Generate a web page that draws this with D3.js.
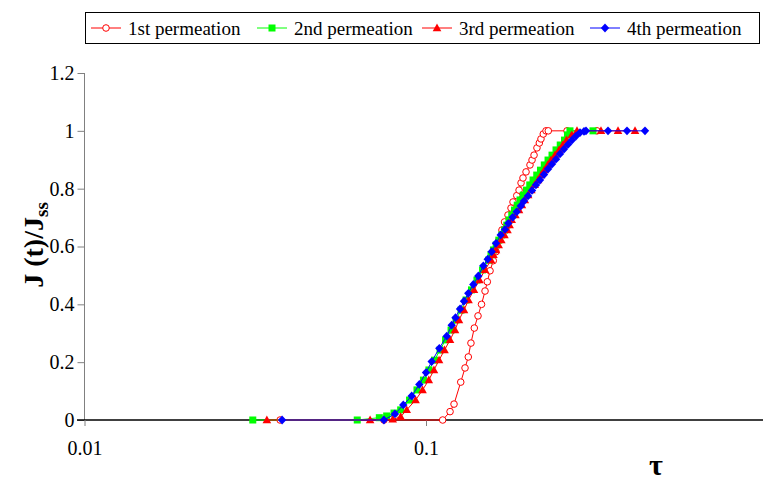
<!DOCTYPE html>
<html>
<head>
<meta charset="utf-8">
<script src="https://cdn.jsdelivr.net/npm/d3@7"></script>
<style>
  html, body { margin: 0; padding: 0; background: #fff; }
  svg { display: block; }
  text { font-family: "Liberation Serif", "Times New Roman", serif; }
</style>
</head>
<body>
<svg id="chart" width="763" height="492"></svg>
<script>
// ---- Data ----
const seriesNames = ["1st permeation", "2nd permeation", "3rd permeation", "4th permeation"];
const xTickValues = [0.01, 0.1];
const xTickLabels = ["0.01", "0.1"];
const yTickValues = [0, 0.2, 0.4, 0.6, 0.8, 1, 1.2];
const yTickLabels = ["0", "0.2", "0.4", "0.6", "0.8", "1", "1.2"];

const tau1 = [0.0374, 0.0753, 0.1119, 0.1176, 0.1208, 0.1264, 0.1301, 0.1330, 0.1354, 0.1385, 0.1420, 0.1454, 0.1489, 0.1512, 0.1540, 0.1574, 0.1603, 0.1636, 0.1669, 0.1698, 0.1738, 0.1774, 0.1798, 0.1844, 0.1873, 0.1898, 0.1923, 0.1963, 0.2016, 0.2044, 0.2072, 0.2113, 0.2147, 0.2171, 0.2205, 0.2246, 0.2281, 0.2588, 0.3168];
const j1   = [0, 0, 0, 0.029, 0.055, 0.131, 0.18, 0.218, 0.266, 0.318, 0.36, 0.40, 0.446, 0.478, 0.516, 0.551, 0.582, 0.622, 0.657, 0.685, 0.709, 0.733, 0.754, 0.776, 0.795, 0.82, 0.837, 0.858, 0.882, 0.899, 0.916, 0.941, 0.958, 0.972, 0.989, 1, 1, 1, 1];

const tau2 = [0.0311, 0.0629, 0.0730, 0.0767, 0.0806, 0.0843, 0.0895, 0.0941, 0.0983, 0.1020, 0.1059, 0.1099, 0.1141, 0.1184, 0.1224, 0.1266, 0.1310, 0.1359, 0.1410, 0.1464, 0.1524, 0.1550, 0.1576, 0.1605, 0.1634, 0.1666, 0.1698, 0.1724, 0.1750, 0.1783, 0.1816, 0.1850, 0.1885, 0.1927, 0.1969, 0.2013, 0.2058, 0.2110, 0.2164, 0.2220, 0.2277, 0.2339, 0.2403, 0.2472, 0.2544, 0.2596, 0.2640, 0.3083];
const j2   = [0, 0, 0.008, 0.014, 0.024, 0.035, 0.069, 0.104, 0.138, 0.173, 0.207, 0.242, 0.277, 0.311, 0.346, 0.380, 0.415, 0.450, 0.484, 0.519, 0.553, 0.571, 0.588, 0.605, 0.622, 0.640, 0.657, 0.674, 0.692, 0.709, 0.726, 0.743, 0.761, 0.778, 0.795, 0.813, 0.830, 0.847, 0.864, 0.882, 0.899, 0.916, 0.934, 0.951, 0.968, 0.986, 1, 1];

const tau3 = [0.0342, 0.0686, 0.0799, 0.0843, 0.0878, 0.0932, 0.0977, 0.1019, 0.1055, 0.1092, 0.1133, 0.1176, 0.1216, 0.1249, 0.1292, 0.1332, 0.1382, 0.1434, 0.1489, 0.1550, 0.1576, 0.1603, 0.1632, 0.1662, 0.1697, 0.1732, 0.1757, 0.1782, 0.1827, 0.1872, 0.1909, 0.1947, 0.1991, 0.2035, 0.2081, 0.2128, 0.2174, 0.2220, 0.2271, 0.2323, 0.2386, 0.2452, 0.2514, 0.2579, 0.2672, 0.2768, 0.3254, 0.3650, 0.4093];
const j3   = [0, 0, 0.002, 0.011, 0.035, 0.069, 0.104, 0.138, 0.173, 0.207, 0.242, 0.277, 0.311, 0.346, 0.380, 0.415, 0.450, 0.484, 0.519, 0.553, 0.571, 0.588, 0.605, 0.622, 0.640, 0.657, 0.674, 0.692, 0.709, 0.726, 0.743, 0.761, 0.778, 0.795, 0.813, 0.830, 0.847, 0.864, 0.882, 0.899, 0.916, 0.934, 0.951, 0.968, 0.986, 1, 1, 1, 1];

const tau4 = [0.0379, 0.0753, 0.0811, 0.0858, 0.0908, 0.0956, 0.1000, 0.1039, 0.1094, 0.1150, 0.1189, 0.1220, 0.1258, 0.1292, 0.1330, 0.1376, 0.1423, 0.1472, 0.1516, 0.1557, 0.1603, 0.1655, 0.1703, 0.1742, 0.1794, 0.1843, 0.1894, 0.1936, 0.1989, 0.2044, 0.2099, 0.2157, 0.2216, 0.2277, 0.2339, 0.2403, 0.2468, 0.2536, 0.2605, 0.2676, 0.2749, 0.2825, 0.2902, 0.2941, 0.3412, 0.3878, 0.4378];
const j4   = [0, 0, 0.021, 0.052, 0.083, 0.123, 0.164, 0.202, 0.248, 0.290, 0.328, 0.354, 0.384, 0.411, 0.438, 0.469, 0.498, 0.533, 0.556, 0.582, 0.611, 0.640, 0.659, 0.680, 0.701, 0.720, 0.740, 0.757, 0.775, 0.794, 0.813, 0.830, 0.849, 0.868, 0.885, 0.902, 0.920, 0.937, 0.953, 0.968, 0.982, 0.994, 0.998, 1, 1, 1, 1];

// ---- Chart ----
const svg = d3.select("#chart");
const x = d3.scaleLog().domain([0.01, 1]).range([84.5, 767.5]);
const y = d3.scaleLinear().domain([0, 1.2]).range([420, 73]);
const FONT = "'Liberation Serif', 'Times New Roman', serif";

const seriesStyle = [
  { color: "#FF0000", shape: "circle" },
  { color: "#00FF00", shape: "square" },
  { color: "#FF0000", shape: "triangle" },
  { color: "#0000FF", shape: "diamond" }
];
const seriesData = [
  d3.zip(tau1, j1), d3.zip(tau2, j2), d3.zip(tau3, j3), d3.zip(tau4, j4)
];

function drawMarker(g, shape, color, cx, cy) {
  if (shape === "circle") {
    g.append("circle").attr("cx", cx).attr("cy", cy).attr("r", 3.3)
      .attr("fill", "#fff").attr("stroke", color).attr("stroke-width", 1);
  } else if (shape === "square") {
    g.append("rect").attr("x", cx - 3.5).attr("y", cy - 3.5).attr("width", 7).attr("height", 7)
      .attr("fill", color);
  } else if (shape === "triangle") {
    g.append("path").attr("d", `M${cx},${cy - 4.5}L${cx + 4.3},${cy + 3.2}L${cx - 4.3},${cy + 3.2}Z`)
      .attr("fill", color);
  } else {
    g.append("path").attr("d", `M${cx},${cy - 4.4}L${cx + 4.2},${cy}L${cx},${cy + 4.4}L${cx - 4.2},${cy}Z`)
      .attr("fill", color);
  }
}

// Y axis
const yAxis = d3.axisLeft(y).tickValues(yTickValues)
  .tickFormat((d, i) => yTickLabels[i]).tickSize(7).tickPadding(3);
const gy = svg.append("g").attr("transform", "translate(84.5,0)").call(yAxis);
gy.select(".domain").attr("stroke", "#808080").attr("d", "M0,73V420");
gy.selectAll(".tick line").attr("stroke", "#808080");
gy.selectAll(".tick text").attr("font-size", 20).attr("fill", "#000").attr("font-family", FONT);

// X axis
const xAxis = d3.axisBottom(x).tickValues(xTickValues)
  .tickFormat((d, i) => xTickLabels[i]).tickSize(6).tickPadding(15);
const gx = svg.append("g").attr("transform", "translate(0,420)").call(xAxis);
gx.select(".domain").attr("stroke", "#000").attr("stroke-width", 1.4).attr("d", "M77,0H763");
gx.selectAll(".tick line").attr("stroke", "#808080");
gx.selectAll(".tick text").attr("font-size", 20).attr("fill", "#000").attr("font-family", FONT);

// Series
const line = d3.line().x(d => x(d[0])).y(d => y(d[1]));
seriesData.forEach((data, i) => {
  const st = seriesStyle[i];
  const g = svg.append("g");
  g.append("path").datum(data).attr("d", line)
    .attr("fill", "none").attr("stroke", st.color).attr("stroke-width", 1);
  data.forEach(d => drawMarker(g, st.shape, st.color, x(d[0]), y(d[1])));
});

// Axis titles
const yt = svg.append("text")
  .attr("transform", "translate(43,245) rotate(-90)")
  .attr("text-anchor", "middle")
  .attr("font-size", 28).attr("font-weight", "bold").attr("fill", "#000");
yt.append("tspan").text("J (t)/J");
yt.append("tspan").attr("font-size", 19).attr("dy", 5).text("ss");

svg.append("text").attr("x", 656).attr("y", 475).attr("text-anchor", "middle")
  .attr("font-size", 30).attr("font-weight", "bold").attr("fill", "#000").text("τ");

// Legend
const lg = svg.append("g");
lg.append("rect").attr("x", 85.5).attr("y", 12.5).attr("width", 674).attr("height", 31)
  .attr("fill", "#fff").attr("stroke", "#000").attr("stroke-width", 1);
const legendX = [91, 257, 422, 590];
seriesNames.forEach((name, i) => {
  const st = seriesStyle[i];
  const lx = legendX[i];
  lg.append("line").attr("x1", lx).attr("x2", lx + 30).attr("y1", 28).attr("y2", 28)
    .attr("stroke", st.color).attr("stroke-width", 1);
  drawMarker(lg, st.shape, st.color, lx + 15, 28);
  lg.append("text").attr("x", lx + 37).attr("y", 34.5).attr("font-size", 19)
    .attr("fill", "#000").attr("font-family", FONT).text(name);
});
</script>
</body>
</html>
